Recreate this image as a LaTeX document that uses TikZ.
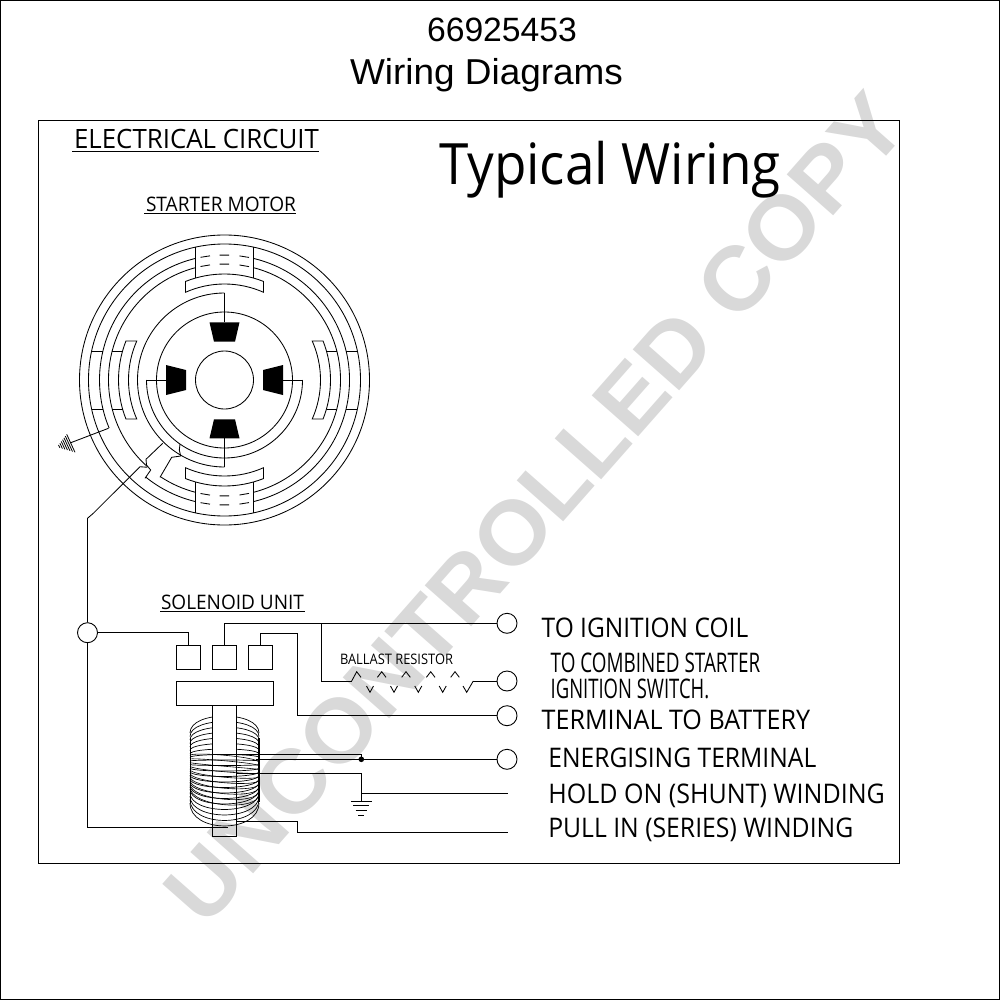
\documentclass[tikz,border=0pt]{standalone}
\usepackage{fontspec}
\usepackage{graphicx}
\setmainfont{Open Sans}
\newfontfamily\arialf{Liberation Sans}
\definecolor{wm}{HTML}{D9D9D9}
\newcommand\fw[3]{\resizebox{#1pt}{\height}{\fontsize{#2}{#2}\selectfont #3}}
\newcommand\ringarc[3]{\draw[ringline] (#1:#3) arc[start angle=#1,end angle=#2,radius=#3];}
\tikzset{
  ringline/.style={line width=0.85pt},
  wire/.style={line width=1pt},
  term/.style={circle,draw,line width=0.9pt,minimum size=20pt,inner sep=0pt},
  solbox/.style={rectangle,draw,line width=0.9pt,minimum width=24pt,minimum height=24pt,inner sep=0pt},
  lab/.style={anchor=base west,inner sep=0pt,outer sep=0pt},
  rule/.style={line width=0.9pt},
  turn/.style={line width=0.7pt},
}
\begin{document}
\begin{tikzpicture}[x=1pt,y=-1pt]
\useasboundingbox (0,0) rectangle (1000,1000);
% watermark
\node[inner sep=0pt,rotate=48.6,text=wm] (watermark) at (535,508)
  {\resizebox{1068pt}{\height}{\arialf\bfseries\fontsize{90}{90}\selectfont UNCONTROLLED COPY}};
% frames
\draw[line width=0.9pt] (0.5,0.5) rectangle (999.5,999.5);
\draw[line width=0.9pt] (38.5,120.5) rectangle (899.5,863.3);
% titles
\node[inner sep=0pt,anchor=base] (t1) at (502,42) {\arialf\fontsize{33.7}{34}\selectfont 66925453};
\node[inner sep=0pt,anchor=base] (t2) at (486.5,85) {\resizebox{273pt}{\height}{\arialf\fontsize{36}{36}\selectfont Wiring Diagrams}};
\node[lab] (typ) at (439,185) {\fw{342}{57}{Typical Wiring}};
\node[lab] (ec) at (74,148.8) {\fw{245}{26.6}{ELECTRICAL CIRCUIT}};
\draw[rule] (72,151.7) -- (319,151.7);
\node[lab] (sm) at (146,212) {\fw{150}{20}{STARTER MOTOR}};
\draw[rule] (144,213.8) -- (296,213.8);
\node[lab] (su) at (161,609) {\fw{143}{20}{SOLENOID UNIT}};
\draw[rule] (160,611.7) -- (305,611.7);
\node[lab] (br) at (340,664.3) {\fw{113}{14.5}{BALLAST RESISTOR}};
\node[lab] (l1) at (541.7,637.5) {\fw{206.5}{27}{TO IGNITION COIL}};
\node[lab] (l2) at (550.7,672.7) {\fw{209.5}{27}{TO COMBINED STARTER}};
\node[lab] (l3) at (550.7,698.7) {\fw{158.5}{27}{IGNITION SWITCH.}};
\node[lab] (l4) at (541.7,729.8) {\fw{268.5}{27}{TERMINAL TO BATTERY}};
\node[lab] (l5) at (548.3,767.2) {\fw{268}{27}{ENERGISING TERMINAL}};
\node[lab] (l6) at (548.3,803.2) {\fw{336.5}{27}{HOLD ON (SHUNT) WINDING}};
\node[lab] (l7) at (548.3,837.2) {\fw{305}{27}{PULL IN (SERIES) WINDING}};
% ---------- motor ----------
\begin{scope}[shift={(224.5,380)},y=1pt]
  \draw[ringline] (0,0) circle[radius=145];
  \draw[ringline] (0,0) circle[radius=136];
  \draw[ringline] (0,0) circle[radius=68];
  \draw[ringline] (0,0) circle[radius=29];
  \ringarc{90}{270}{87}
  \ringarc{180}{360}{78}
  % field rings
  \ringarc{103.4}{202.6}{125}
  \ringarc{104.5}{228.3}{116}
  \ringarc{231}{256.6}{125}
  \ringarc{236.5}{255.5}{116}
  \ringarc{76.6}{-76.6}{125}
  \ringarc{75.5}{-75.5}{116}
  % pole shoes
  \foreach \a in {0,90,180,270}{
    \begin{scope}[rotate=\a]
      \draw[ringline] (111.6:106) arc[start angle=111.6,end angle=68.4,radius=106]
        -- (66:96) arc[start angle=66,end angle=114,radius=96] -- cycle;
    \end{scope}
  }
  % top and bottom coil sides and dashes
  \foreach \s in {1,-1}{
    \draw[ringline] (-29,\s*132.9) -- (-29,\s*102);
    \draw[ringline] (29,\s*132.9) -- (29,\s*102);
    \foreach \x in {-24,-5,15}{
      \draw[ringline] (\x,{\s*sqrt(125*125-\x*\x)}) -- (\x+9.5,{\s*sqrt(125*125-(\x+9.5)*(\x+9.5))});
      \draw[ringline] (\x,{\s*sqrt(116*116-\x*\x)}) -- (\x+9.5,{\s*sqrt(116*116-(\x+9.5)*(\x+9.5))});
    }
    % left and right coil walls
    \draw[ringline] (\s*132.9,29) -- (\s*121.6,29);
    \draw[ringline] (\s*132.9,-29) -- (\s*121.6,-29);
    \draw[ringline] (\s*112.3,29) -- (\s*102,29);
    \draw[ringline] (\s*112.3,-29) -- (\s*102,-29);
  }
  % pole pieces
  \fill (-15,57.7) -- (15,57.7) -- (10.5,38.3) -- (-10.5,38.3) -- cycle;
  \fill (-15,-58.3) -- (15,-58.3) -- (10.5,-39.3) -- (-10.5,-39.3) -- cycle;
  \fill (-58.5,15) -- (-58.5,-15) -- (-38.5,-10) -- (-38.5,10) -- cycle;
  \fill (58.5,15) -- (58.5,-15) -- (38.5,-10) -- (38.5,10) -- cycle;
  \draw[wire] (0,87) -- (0,57.7);
  \draw[wire] (0,-87) -- (0,-58.3);
  \draw[wire] (-78,0) -- (-58.5,0);
  \draw[wire] (78,0) -- (58.5,0);
\end{scope}
% internal links of the motor
\draw[ringline] (162.7,443.3) -- (146,459.3) -- (146.5,465) -- (150.7,470) -- (145,478.3);
\draw[ringline] (180,444) -- (179.3,450) -- (180.7,456) -- (171.7,457.3) -- (160,477.3);
% earth
\coordinate (gndA) at (108.5,428.3);
\coordinate (gndB) at (70,443);
\draw[ringline] (gndA) -- (gndB);
\foreach \t in {0,0.14,0.28,0.42,0.56,0.70,0.84}{
  \draw[line width=0.8pt] ({66.7+\t*(57-66.7)},{434.3+\t*(447-434.3)}) -- ({75+\t*(57-75)},{452.3+\t*(447-452.3)});
}
% ---------- solenoid ----------
\node[term] (tJ) at (87.5,632.7) {};
\node[term] (tIgn) at (507,623.3) {};
\node[term] (tCmb) at (507,681) {};
\node[term] (tBat) at (507,715.7) {};
\node[term] (tEn) at (507,759.3) {};
\node[solbox] (s1) at (188.7,657.3) {};
\node[solbox] (s2) at (224.5,657.3) {};
\node[solbox] (s3) at (260.7,657.3) {};
\node[solbox,minimum width=96.6pt] (bar) at (225,693.7) {};
% plunger
\coordinate (pA) at (212.3,705.7);
\coordinate (pB) at (236.7,836.7);
\draw[line width=0.9pt] (pA) rectangle (pB);
% coil
\begin{scope}
  \clip (180,700) rectangle (212.3,845) (236.7,700) rectangle (270,845);
  \foreach \i in {0,...,7}{
    \pgfmathsetmacro\ye{733+\i*3.5}
    \pgfmathsetmacro\sg{(-17+\i*2)*1.33}
    \draw[turn] (190,\ye) .. controls (190,\ye+\sg) and (259,\ye+\sg) .. (259,\ye);
  }
\end{scope}
\foreach \i in {8,...,20}{
  \pgfmathsetmacro\ye{733+\i*3.5}
  \pgfmathsetmacro\sg{(-17+\i*2)*1.33}
  \draw[turn] (190,\ye) .. controls (190,\ye+\sg) and (259,\ye+\sg) .. (259,\ye);
}
% second layer of the winding
\foreach \i in {7,...,16}{
  \pgfmathsetmacro\ye{731+\i*3.5}
  \pgfmathsetmacro\sg{(-17+\i*2)*1.33}
  \draw[line width=0.6pt] (190,\ye) .. controls (190,\ye+\sg) and (259,\ye+\sg+5) .. (259,\ye+7);
}
\draw[line width=1.1pt] (259,738) -- (259,802);
\draw[line width=0.7pt] (190,738) -- (190,802);
% wiring
\coordinate (leadA) at (147.3,467.3);
\coordinate (leadB) at (140,466.7);
\coordinate (leadC) at (93.3,513.3);
\coordinate (leadD) at (87.5,518.3);
\draw[ringline] (leadA) -- (leadB) -- (leadC) -- (leadD);
\draw[wire] (leadD) -- (tJ.north);
\coordinate (serA) at (87.5,827.3);
\coordinate (serB) at (228,827.3);
\draw[wire] (tJ.south) -- (serA) -- (serB);
\draw[wire] (tJ.east) -| (s1.north);
\draw[wire] (s2.north) |- (tIgn.west);
\coordinate (brA) at (321.7,623.3);
\coordinate (balS) at (351.7,681);
\coordinate (balE) at (473.3,681);
\draw[wire] (brA) |- (balS);
\draw[ringline] (balS) -- (356.7,671.7) -- (361,677.3);
\foreach \x in {381.7,406,430.7,455}{
  \draw[ringline] (\x-4.3,677.3) -- (\x,671.7) -- (\x+4.3,677.3);
}
\foreach \x in {370,394,418.3,442.7}{
  \draw[ringline] (\x-3.5,686) -- (\x,692.3) -- (\x+3.5,686);
}
\draw[ringline] (463,686) -- (466.7,692.3) -- (balE);
\draw[wire] (balE) -- (tCmb.west);
\coordinate (batA) at (297.7,633.3);
\coordinate (batB) at (297.7,715.7);
\draw[wire] (s3.north) |- (batA) -- (batB) -- (tBat.west);
% energising
\coordinate (enA) at (213,754.3);
\coordinate (enB) at (361.3,754.3);
\coordinate (enD) at (361.3,759.3);
\coordinate (enC) at (256,759.3);
\draw[wire] (enA) -- (enB) -- (enD);
\draw[wire] (enC) -- (tEn.west);
\fill (enD) circle[radius=2.8];
% shunt
\coordinate (shA) at (236.7,773.3);
\coordinate (shB) at (361.3,773.3);
\coordinate (shC) at (361.3,801);
\coordinate (shJ) at (361.3,793.3);
\coordinate (shE) at (507.7,793.3);
\draw[wire] (shA) -- (shB) -- (shC);
\draw[wire] (shJ) -- (shE);
\draw[wire] (351,801) -- (371.7,801);
\draw[wire] (353.3,805.7) -- (369.3,805.7);
\draw[wire] (355.7,810) -- (367,810);
\draw[wire] (358.3,815) -- (364,815);
% series
\coordinate (puA) at (236.7,821.7);
\coordinate (puB) at (297.7,821.7);
\coordinate (puC) at (297.7,832.3);
\coordinate (puD) at (507.7,832.3);
\draw[wire] (puA) -- (puB) -- (puC) -- (puD);
\end{tikzpicture}
\end{document}
